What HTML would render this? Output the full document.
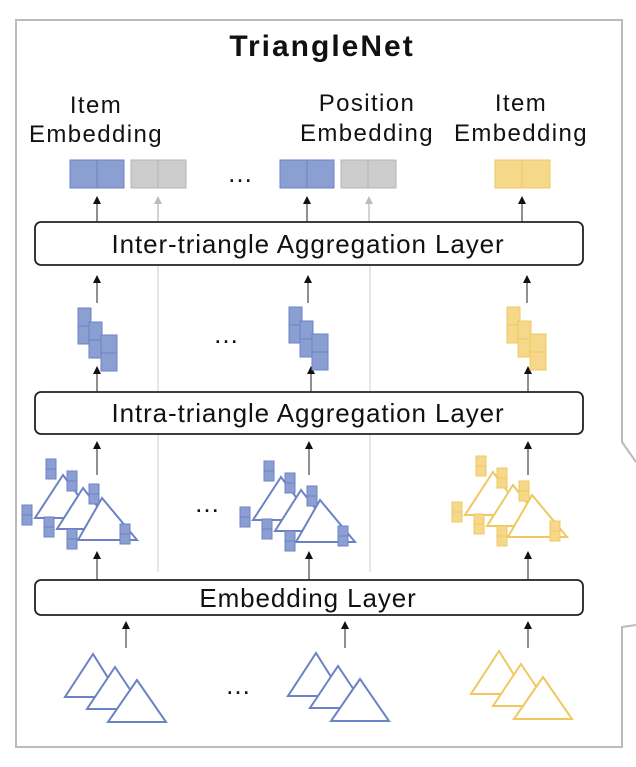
<!DOCTYPE html>
<html><head><meta charset="utf-8"><style>
body{margin:0;background:#fff;width:636px;height:767px;overflow:hidden}
svg{display:block}
text{font-family:"Liberation Sans",sans-serif}
</style></head><body>
<svg width="636" height="767" viewBox="0 0 636 767" xmlns="http://www.w3.org/2000/svg">
<defs>
<marker id="ab" markerWidth="8" markerHeight="8" refX="4" refY="4" orient="auto" markerUnits="userSpaceOnUse"><path d="M0,0 L8,4 L0,8 z" fill="#111"/></marker>
<marker id="ag" markerWidth="8" markerHeight="8" refX="4" refY="4" orient="auto" markerUnits="userSpaceOnUse"><path d="M0,0 L8,4 L0,8 z" fill="#bbb"/></marker>
<g id="sq"><rect x="0" y="0" width="10" height="10" fill="#8c9fd3" stroke="#6b82c4" stroke-width="1"/><rect x="0" y="10" width="10" height="10" fill="#8c9fd3" stroke="#6b82c4" stroke-width="1"/></g>
<g id="sqy"><rect x="0" y="0" width="10" height="10" fill="#f6d88a" stroke="#efc860" stroke-width="1"/><rect x="0" y="10" width="10" height="10" fill="#f6d88a" stroke="#efc860" stroke-width="1"/></g>
<g id="stk"><rect x="0" y="0" width="13" height="18" fill="#8c9fd3" stroke="#6b82c4"/><rect x="0" y="18" width="13" height="18" fill="#8c9fd3" stroke="#6b82c4"/><rect x="11" y="14" width="13" height="18" fill="#8c9fd3" stroke="#6b82c4"/><rect x="11" y="32" width="13" height="18" fill="#8c9fd3" stroke="#6b82c4"/><rect x="23" y="27" width="16" height="18" fill="#8c9fd3" stroke="#6b82c4"/><rect x="23" y="45" width="16" height="18" fill="#8c9fd3" stroke="#6b82c4"/></g>
<g id="stky"><rect x="0" y="0" width="13" height="18" fill="#f6d88a" stroke="#efc860"/><rect x="0" y="18" width="13" height="18" fill="#f6d88a" stroke="#efc860"/><rect x="11" y="14" width="13" height="18" fill="#f6d88a" stroke="#efc860"/><rect x="11" y="32" width="13" height="18" fill="#f6d88a" stroke="#efc860"/><rect x="23" y="27" width="16" height="18" fill="#f6d88a" stroke="#efc860"/><rect x="23" y="45" width="16" height="18" fill="#f6d88a" stroke="#efc860"/></g>
<g id="tri3" fill="#fff" stroke-width="2"><path d="M63,475 L35,518 L95,518 Z"/><path d="M83,488 L57,529 L115,529 Z"/><path d="M102,498 L78,540 L137,540 Z"/></g>
<g id="btri" fill="#fff" stroke-width="2"><path d="M93,654 L65,697 L120,697 Z"/><path d="M115,667 L87,709 L143,709 Z"/><path d="M137,680 L108,722 L166,722 Z"/></g>
</defs>
<!-- outer box with callout -->
<path d="M636,625 L622,627 L622,747 L16,747 L16,20 L622,20 L622,442 L636,462" fill="#fff" stroke="#bbb" stroke-width="2"/>
<text x="322" y="56" text-anchor="middle" font-size="30" font-weight="bold" letter-spacing="2" fill="#111">TriangleNet</text>
<g font-size="24" letter-spacing="1.4" fill="#111" text-anchor="middle">
<text x="96" y="113">Item</text><text x="96" y="142">Embedding</text>
<text x="367" y="111">Position</text><text x="367" y="141">Embedding</text>
<text x="521" y="111">Item</text><text x="521" y="141">Embedding</text>
</g>
<!-- top embedding boxes -->
<g stroke-width="1">
<rect x="70" y="160" width="27" height="28" fill="#8c9fd3" stroke="#6b82c4"/><rect x="97" y="160" width="27" height="28" fill="#8c9fd3" stroke="#6b82c4"/>
<rect x="131" y="160" width="27" height="28" fill="#ccc" stroke="#b5b5b5"/><rect x="158" y="160" width="28" height="28" fill="#ccc" stroke="#b5b5b5"/>
<rect x="280" y="160" width="27" height="28" fill="#8c9fd3" stroke="#6b82c4"/><rect x="307" y="160" width="27" height="28" fill="#8c9fd3" stroke="#6b82c4"/>
<rect x="341" y="160" width="27" height="28" fill="#ccc" stroke="#b5b5b5"/><rect x="368" y="160" width="28" height="28" fill="#ccc" stroke="#b5b5b5"/>
<rect x="495" y="160" width="27" height="28" fill="#f6d88a" stroke="#efc860"/><rect x="522" y="160" width="28" height="28" fill="#f6d88a" stroke="#efc860"/>
</g>
<text x="240" y="182" font-size="26" text-anchor="middle" fill="#111">…</text>
<!-- separators -->
<g stroke="#ccc" stroke-width="1"><line x1="158" y1="266" x2="158" y2="572"/><line x1="370" y1="266" x2="370" y2="572"/></g>
<!-- arrows -->
<g stroke="#555" stroke-width="1.3">
<line x1="97" y1="222" x2="97" y2="200" marker-end="url(#ab)"/>
<line x1="307" y1="222" x2="307" y2="200" marker-end="url(#ab)"/>
<line x1="522" y1="222" x2="522" y2="200" marker-end="url(#ab)"/>
<line x1="97" y1="303" x2="97" y2="279" marker-end="url(#ab)"/>
<line x1="308" y1="303" x2="308" y2="279" marker-end="url(#ab)"/>
<line x1="527" y1="303" x2="527" y2="279" marker-end="url(#ab)"/>
<line x1="97" y1="392" x2="97" y2="370" marker-end="url(#ab)"/>
<line x1="311" y1="392" x2="311" y2="370" marker-end="url(#ab)"/>
<line x1="528" y1="392" x2="528" y2="370" marker-end="url(#ab)"/>
<line x1="97" y1="475" x2="97" y2="445" marker-end="url(#ab)"/>
<line x1="309" y1="475" x2="309" y2="445" marker-end="url(#ab)"/>
<line x1="528" y1="475" x2="528" y2="445" marker-end="url(#ab)"/>
<line x1="97" y1="580" x2="97" y2="555" marker-end="url(#ab)"/>
<line x1="309" y1="580" x2="309" y2="555" marker-end="url(#ab)"/>
<line x1="528" y1="580" x2="528" y2="555" marker-end="url(#ab)"/>
<line x1="126" y1="648" x2="126" y2="625" marker-end="url(#ab)"/>
<line x1="345" y1="648" x2="345" y2="625" marker-end="url(#ab)"/>
<line x1="528" y1="648" x2="528" y2="625" marker-end="url(#ab)"/>
</g>
<g stroke="#bbb" stroke-width="1.3">
<line x1="158" y1="222" x2="158" y2="200" marker-end="url(#ag)"/>
<line x1="369" y1="222" x2="369" y2="200" marker-end="url(#ag)"/>
</g>
<!-- layer boxes -->
<g fill="#fff" stroke="#222" stroke-width="1.8">
<rect x="35" y="222" width="548" height="43" rx="6"/>
<rect x="35" y="392" width="548" height="42" rx="6"/>
<rect x="35" y="580" width="548" height="35" rx="6"/>
</g>
<g font-size="26" letter-spacing="0.9" fill="#111" text-anchor="middle">
<text x="308" y="253">Inter-triangle Aggregation Layer</text>
<text x="308" y="422">Intra-triangle Aggregation Layer</text>
<text x="308" y="607">Embedding Layer</text>
</g>
<!-- stacks -->
<use href="#stk" x="78" y="308"/>
<use href="#stk" x="289" y="307"/>
<use href="#stky" x="507" y="307"/>
<text x="226" y="343" font-size="26" text-anchor="middle" fill="#111">…</text>
<!-- triangles with nodes -->
<g stroke="#6b82c4"><use href="#tri3"/></g>
<g stroke="#6b82c4"><use href="#tri3" x="218" y="2"/></g>
<g stroke="#efc860"><use href="#tri3" x="430" y="-3"/></g>
<g>
<use href="#sq" x="46" y="459"/><use href="#sq" x="67" y="471"/><use href="#sq" x="89" y="484"/>
<use href="#sq" x="22" y="505"/><use href="#sq" x="44" y="517"/><use href="#sq" x="67" y="529"/><use href="#sq" x="120" y="524"/>
</g>
<g transform="translate(218,2)">
<use href="#sq" x="46" y="459"/><use href="#sq" x="67" y="471"/><use href="#sq" x="89" y="484"/>
<use href="#sq" x="22" y="505"/><use href="#sq" x="44" y="517"/><use href="#sq" x="67" y="529"/><use href="#sq" x="120" y="524"/>
</g>
<g transform="translate(430,-3)">
<use href="#sqy" x="46" y="459"/><use href="#sqy" x="67" y="471"/><use href="#sqy" x="89" y="484"/>
<use href="#sqy" x="22" y="505"/><use href="#sqy" x="44" y="517"/><use href="#sqy" x="67" y="529"/><use href="#sqy" x="120" y="524"/>
</g>
<text x="207" y="512" font-size="26" text-anchor="middle" fill="#111">…</text>
<!-- bottom triangles -->
<g stroke="#6b82c4"><use href="#btri"/></g>
<g stroke="#6b82c4"><use href="#btri" x="223" y="-1"/></g>
<g stroke="#efc860"><use href="#btri" x="406" y="-3"/></g>
<text x="238" y="694" font-size="26" text-anchor="middle" fill="#111">…</text>
</svg>
</body></html>
